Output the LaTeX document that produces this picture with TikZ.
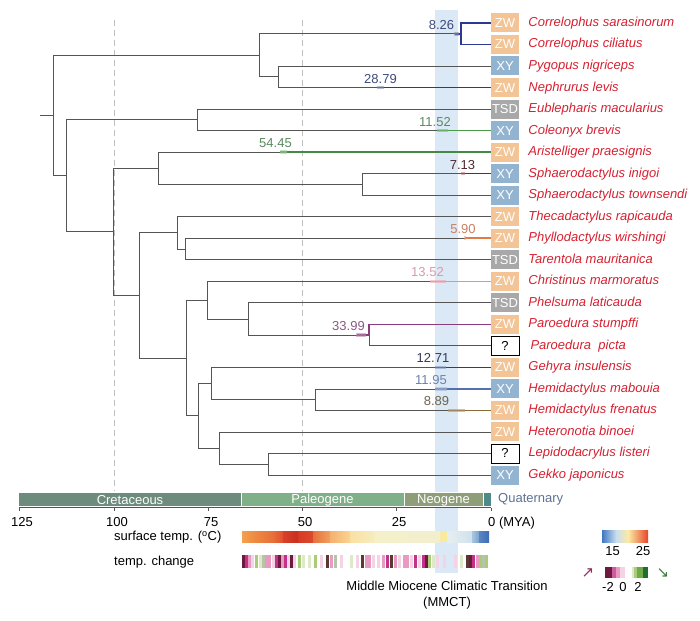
\documentclass[tikz,border=0pt]{standalone}
\usepackage{fontspec}
\setmainfont{Liberation Sans}
\newfontfamily\symfont{DejaVu Sans}
\usetikzlibrary{positioning}

\definecolor{treegrey}{RGB}{85,85,85}
\definecolor{guidegrey}{RGB}{192,192,192}
\definecolor{mmctblue}{RGB}{219,232,246}
\definecolor{zwfill}{RGB}{243,196,150}
\definecolor{xyfill}{RGB}{147,180,208}
\definecolor{tsdfill}{RGB}{168,168,168}
\definecolor{spred}{RGB}{214,32,48}
% branch colours
\definecolor{cnavy}{RGB}{43,57,144}
\definecolor{cgreen}{RGB}{74,154,74}
\definecolor{cmaroon}{RGB}{139,28,36}
\definecolor{corange}{RGB}{224,122,74}
\definecolor{cpink}{RGB}{238,140,152}
\definecolor{cpurple}{RGB}{139,59,126}
\definecolor{csteel}{RGB}{84,112,174}
\definecolor{colive}{RGB}{138,106,53}
% label colours
\definecolor{lnavy}{RGB}{62,74,122}
\definecolor{lgreen}{RGB}{90,138,96}
\definecolor{lmaroon}{RGB}{80,40,48}
\definecolor{lorange}{RGB}{201,128,96}
\definecolor{lpink}{RGB}{217,154,170}
\definecolor{lpurple}{RGB}{138,90,133}
\definecolor{ldark}{RGB}{51,56,90}
\definecolor{lsteel}{RGB}{106,130,176}
\definecolor{lolive}{RGB}{110,100,80}
% time scale
\definecolor{creta}{RGB}{110,140,125}
\definecolor{paleo}{RGB}{128,176,136}
\definecolor{neo}{RGB}{142,158,120}
\definecolor{quat}{RGB}{78,138,138}
\definecolor{quattxt}{RGB}{93,113,144}
% surface temperature
\definecolor{tA}{RGB}{244,160,80}
\definecolor{tB}{RGB}{238,138,64}
\definecolor{tC}{RGB}{232,112,58}
\definecolor{tD}{RGB}{224,80,46}
\definecolor{tE}{RGB}{216,64,42}
\definecolor{tF}{RGB}{200,48,30}
\definecolor{tG}{RGB}{214,58,38}
\definecolor{tH}{RGB}{220,74,44}
\definecolor{tI}{RGB}{232,112,60}
\definecolor{tJ}{RGB}{240,160,96}
\definecolor{tK}{RGB}{245,176,112}
\definecolor{tL}{RGB}{249,213,144}
\definecolor{tM}{RGB}{250,224,160}
\definecolor{tN}{RGB}{246,237,192}
\definecolor{tO}{RGB}{245,240,200}
\definecolor{tP}{RGB}{242,239,207}
\definecolor{tQ}{RGB}{250,234,160}
\definecolor{tR}{RGB}{232,238,240}
\definecolor{tS}{RGB}{207,226,238}
\definecolor{tT}{RGB}{168,198,224}
\definecolor{tU}{RGB}{123,163,208}
\definecolor{tV}{RGB}{90,133,195}
\definecolor{tW}{RGB}{62,109,181}
% temperature change stripes
\definecolor{dm}{RGB}{110,26,64}
\definecolor{mg}{RGB}{194,50,138}
\definecolor{pk}{RGB}{232,154,192}
\definecolor{pp}{RGB}{244,212,228}
\definecolor{pg}{RGB}{220,234,200}
\definecolor{lg}{RGB}{168,204,120}
\definecolor{gg}{RGB}{184,196,168}
\definecolor{db}{RGB}{90,58,48}
\definecolor{mgreen}{RGB}{110,170,70}
\definecolor{dgreen}{RGB}{30,110,46}
\definecolor{uparrow}{RGB}{139,48,96}
\definecolor{dnarrow}{RGB}{60,122,60}
% legend
\definecolor{kA}{RGB}{63,120,192}
\definecolor{kB}{RGB}{200,221,240}
\definecolor{kC}{RGB}{251,235,165}
\definecolor{kD}{RGB}{232,69,42}

\tikzset{
  branch/.style={draw=treegrey, line width=0.8pt},
  hi/.style={line width=1.6pt},
  hpd/.style={opacity=0.6},
  guide/.style={draw=guidegrey, line width=0.6pt, dash pattern=on 6pt off 4pt},
  tipbox/.style={minimum width=28pt, minimum height=19pt, inner sep=0pt, text=white,
    font=\fontsize{13}{13}\selectfont},
  zw/.style={tipbox, fill=zwfill},
  xy/.style={tipbox, fill=xyfill},
  tsd/.style={tipbox, fill=tsdfill},
  unk/.style={tipbox, fill=white, draw=black, line width=0.6pt, text=black},
  sp/.style={inner sep=0pt, text=spred, font=\fontsize{13}{13}\selectfont\itshape,
    text height=9.5pt, text depth=2.5pt},
  age/.style={anchor=base, inner sep=0pt, font=\fontsize{13}{13}\selectfont},
  txt/.style={inner sep=0pt, font=\fontsize{13}{16}\selectfont},
  period/.style={txt, text=white},
}

\begin{document}
\begin{tikzpicture}[x=1pt, y=-1pt]
\useasboundingbox (0,0) rectangle (700,620);

% MMCT band and time guides
\fill[mmctblue] (435,10) rectangle (458,573);
\draw[guide] (114,20) -- (114,491);
\draw[guide] (302,20) -- (302,491);

% sex determination boxes
\node[zw] (b1) at (505,23) {ZW};
\node[zw] (b2) at (505,44.5) {ZW};
\node[xy] (b3) at (505,66) {XY};
\node[zw] (b4) at (505,87.6) {ZW};
\node[tsd] (b5) at (505,109.1) {TSD};
\node[xy] (b6) at (505,130.6) {XY};
\node[zw] (b7) at (505,152.1) {ZW};
\node[xy] (b8) at (505,173.7) {XY};
\node[xy] (b9) at (505,195.2) {XY};
\node[zw] (b10) at (505,216.7) {ZW};
\node[zw] (b11) at (505,238.2) {ZW};
\node[tsd] (b12) at (505,259.7) {TSD};
\node[zw] (b13) at (505,281.3) {ZW};
\node[tsd] (b14) at (505,302.8) {TSD};
\node[zw] (b15) at (505,324.3) {ZW};
\node[unk] (b16) at (505,345.8) {?};
\node[zw] (b17) at (505,367.3) {ZW};
\node[xy] (b18) at (505,388.9) {XY};
\node[zw] (b19) at (505,410.4) {ZW};
\node[zw] (b20) at (505,431.9) {ZW};
\node[unk] (b21) at (505,453.4) {?};
\node[xy] (b22) at (505,475) {XY};

% species
\node[sp, right=9pt of b1] (s1) {Correlophus sarasinorum};
\node[sp, right=9pt of b2] (s2) {Correlophus ciliatus};
\node[sp, right=9pt of b3] (s3) {Pygopus nigriceps};
\node[sp, right=9pt of b4] (s4) {Nephrurus levis};
\node[sp, right=9pt of b5] (s5) {Eublepharis macularius};
\node[sp, right=9pt of b6] (s6) {Coleonyx brevis};
\node[sp, right=9pt of b7] (s7) {Aristelliger praesignis};
\node[sp, right=9pt of b8] (s8) {Sphaerodactylus inigoi};
\node[sp, right=9pt of b9] (s9) {Sphaerodactylus townsendi};
\node[sp, right=9pt of b10] (s10) {Thecadactylus rapicauda};
\node[sp, right=9pt of b11] (s11) {Phyllodactylus wirshingi};
\node[sp, right=9pt of b12] (s12) {Tarentola mauritanica};
\node[sp, right=9pt of b13] (s13) {Christinus marmoratus};
\node[sp, right=9pt of b14] (s14) {Phelsuma laticauda};
\node[sp, right=9pt of b15] (s15) {Paroedura stumpffi};
\node[sp, right=11pt of b16] (s16) {Paroedura\ \ picta};
\node[sp, right=9pt of b17] (s17) {Gehyra insulensis};
\node[sp, right=9pt of b18] (s18) {Hemidactylus mabouia};
\node[sp, right=9pt of b19] (s19) {Hemidactylus frenatus};
\node[sp, right=9pt of b20] (s20) {Heteronotia binoei};
\node[sp, right=9pt of b21] (s21) {Lepidodacrylus listeri};
\node[sp, right=9pt of b22] (s22) {Gekko japonicus};

% internal nodes of the tree
\coordinate (stub) at (40,115.6);
\coordinate (root) at (53,115.6);
\coordinate (nA) at (259,55.3);
\coordinate (nC) at (461,33.8);
\coordinate (nP) at (278,76.8);
\coordinate (nB) at (66,175.9);
\coordinate (nE) at (197,119.9);
\coordinate (nX) at (113.5,231.8);
\coordinate (nAr) at (158,168.3);
\coordinate (nS) at (362,184.5);
\coordinate (nTC) at (139,295.4);
\coordinate (nT) at (177,232.8);
\coordinate (nPh) at (185,249);
\coordinate (nCP) at (186,358);
\coordinate (nCh) at (207,300.1);
\coordinate (nPl) at (248,318.9);
\coordinate (nPa) at (369,335);
\coordinate (nGH) at (198,415.8);
\coordinate (nG) at (211,383.5);
\coordinate (nH) at (315,399.6);
\coordinate (nHe) at (219,448);
\coordinate (nL) at (268,464.2);

% branches
\draw[branch] (stub) -- (root);
\draw[branch] (root) |- (nA);
\draw[branch] (root) |- (nB);
\draw[branch] (nA) |- (nC);
\draw[branch] (nA) |- (nP);
\draw[branch] (nC) |- (b1.west);
\draw[branch] (nC) |- (b2.west);
\draw[branch] (nP) |- (b3.west);
\draw[branch] (nP) |- (b4.west);
\draw[branch] (nB) |- (nE);
\draw[branch] (nB) |- (nX);
\draw[branch] (nE) |- (b5.west);
\draw[branch] (nE) |- (b6.west);
\draw[branch] (nX) |- (nAr);
\draw[branch] (nX) |- (nTC);
\draw[branch] (nAr) |- (b7.west);
\draw[branch] (nAr) |- (nS);
\draw[branch] (nS) |- (b8.west);
\draw[branch] (nS) |- (b9.west);
\draw[branch] (nTC) |- (nT);
\draw[branch] (nTC) |- (nCP);
\draw[branch] (nT) |- (b10.west);
\draw[branch] (nT) |- (nPh);
\draw[branch] (nPh) |- (b11.west);
\draw[branch] (nPh) |- (b12.west);
\draw[branch] (nCP) |- (nCh);
\draw[branch] (nCP) |- (nGH);
\draw[branch] (nCh) |- (b13.west);
\draw[branch] (nCh) |- (nPl);
\draw[branch] (nPl) |- (b14.west);
\draw[branch] (nPl) |- (nPa);
\draw[branch] (nPa) |- (b15.west);
\draw[branch] (nPa) |- (b16.west);
\draw[branch] (nGH) |- (nG);
\draw[branch] (nGH) |- (nHe);
\draw[branch] (nG) |- (b17.west);
\draw[branch] (nG) |- (nH);
\draw[branch] (nH) |- (b18.west);
\draw[branch] (nH) |- (b19.west);
\draw[branch] (nHe) |- (b20.west);
\draw[branch] (nHe) |- (nL);
\draw[branch] (nL) |- (b21.west);
\draw[branch] (nL) |- (b22.west);

% transition points
\coordinate (a1) at (455,33.8);
\coordinate (a4) at (378,87.6);
\coordinate (a6) at (437,130.6);
\coordinate (a7) at (280,152.1);
\coordinate (a8) at (461,173.7);
\coordinate (a11) at (465,238.2);
\coordinate (a13) at (430,281.3);
\coordinate (a15) at (357,335);
\coordinate (a17) at (435,367.3);
\coordinate (a18) at (435,388.9);
\coordinate (a19) at (448,410.4);

\draw[branch, hi, cnavy] (a1) -- (nC) |- (b1.west);
\draw[branch, hi, cnavy] (nC) |- (b2.west);
\draw[branch, hi, cnavy] (a4) -- (b4.west);
\draw[branch, hi, cgreen] (a6) -- (b6.west);
\draw[branch, hi, cgreen!90!black] (a7) -- (b7.west);
\draw[branch, hi, cmaroon] (a8) -- (b8.west);
\draw[branch, hi, corange] (a11) -- (b11.west);
\draw[branch, hi, cpink] (a13) -- (b13.west);
\draw[branch, hi, cpurple] (a15) -- (nPa) |- (b15.west);
\draw[branch, hi, cnavy] (a17) -- (b17.west);
\draw[branch, hi, csteel] (a18) -- (b18.west);
\draw[branch, hi, colive] (a19) -- (b19.west);

% age intervals
\fill[hpd, lnavy!60] (454,32) rectangle (459,35.6);
\fill[hpd, lnavy!60] (377,85.8) rectangle (384,89.4);
\fill[hpd, cgreen!70] (437,128.8) rectangle (448,132.4);
\fill[hpd, cgreen!50] (280,150.3) rectangle (287,153.9);
\fill[hpd, cmaroon!60] (461,171.9) rectangle (465,175.5);
\fill[hpd, corange!70] (464,236) rectangle (466,240.4);
\fill[hpd, cpink!80] (430,279.5) rectangle (446,283.1);
\fill[hpd, cpurple!60] (356,333.2) rectangle (366,336.8);
\fill[hpd, csteel!70] (435,365.5) rectangle (446,369.1);
\fill[hpd, csteel!50] (435,387.1) rectangle (447,390.7);
\fill[hpd, colive!70] (448,408.6) rectangle (465,412.2);

% ages
\node[age, text=lnavy] (d1) at (441.5,29.8) {8.26};
\node[age, text=lnavy] (d4) at (380.5,83.6) {28.79};
\node[age, text=lgreen] (d6) at (435,126.1) {11.52};
\node[age, text=lgreen] (d7) at (275.5,147.6) {54.45};
\node[age, text=lmaroon] (d8) at (462.5,169.2) {7.13};
\node[age, text=lorange] (d11) at (463,233.7) {5.90};
\node[age, text=lpink] (d13) at (427.5,276.8) {13.52};
\node[age, text=lpurple] (d15) at (348.5,330.5) {33.99};
\node[age, text=ldark] (d17) at (433,362.8) {12.71};
\node[age, text=lsteel] (d18) at (431,384.4) {11.95};
\node[age, text=lolive] (d19) at (436.5,405.9) {8.89};

% geological time scale
\filldraw[fill=creta, draw=white, line width=0.5pt] (18,492) rectangle (241,506);
\filldraw[fill=paleo, draw=white, line width=0.5pt] (241,492) rectangle (404,506);
\filldraw[fill=neo, draw=white, line width=0.5pt] (404,492) rectangle (483,506);
\filldraw[fill=quat, draw=white, line width=0.5pt] (483,492) rectangle (491,506);
\node[period] (cre) at (130,500) {Cretaceous};
\node[period] (pal) at (322.5,500) {Paleogene};
\node[period] (neg) at (443.5,500) {Neogene};
\node[txt, anchor=west, text=quattxt] (qua) at (498,499.5) {Quaternary};

% axis
\draw[treegrey, line width=0.8pt] (19,507.5) -- (491,507.5);
\draw[treegrey, line width=0.8pt] (19,507.5) -- (19,511);
\draw[treegrey, line width=0.8pt] (114,507.5) -- (114,511);
\draw[treegrey, line width=0.8pt] (208,507.5) -- (208,511);
\draw[treegrey, line width=0.8pt] (302,507.5) -- (302,511);
\draw[treegrey, line width=0.8pt] (396,507.5) -- (396,511);
\draw[treegrey, line width=0.8pt] (491,507.5) -- (491,511);
\node[age] (m125) at (22,526) {125};
\node[age] (m100) at (117,526) {100};
\node[age] (m75) at (211,526) {75};
\node[age] (m50) at (305,526) {50};
\node[age] (m25) at (399,526) {25};
\node[age, anchor=base west] (m0) at (488,526) {0 (MYA)};

% surface temperature
\node[txt, anchor=west] (tlab) at (114,537) {surface temp. (\textsuperscript{o}C)};
\shade[left color=tA, right color=tB] (242,531) rectangle (255,542);
\shade[left color=tB, right color=tC] (255,531) rectangle (272,542);
\shade[left color=tC, right color=tD] (272,531) rectangle (283,542);
\shade[left color=tE, right color=tF] (283,531) rectangle (298,542);
\shade[left color=tG, right color=tH] (298,531) rectangle (313,542);
\shade[left color=tI, right color=tJ] (313,531) rectangle (330,542);
\shade[left color=tK, right color=tL] (330,531) rectangle (350,542);
\shade[left color=tM, right color=tN] (350,531) rectangle (375,542);
\shade[left color=tO, right color=tP] (375,531) rectangle (440,542);
\fill[tQ] (440,531) rectangle (447,542);
\shade[left color=tR, right color=tS] (447,531) rectangle (472,542);
\shade[left color=tT, right color=tU] (472,531) rectangle (479,542);
\shade[left color=tV, right color=tW] (479,531) rectangle (489,542);

% temperature change
\node[txt, anchor=west] (clab) at (114,562) {temp. change};
\foreach \x/\c in {242/dm, 245/mg, 248/pk, 251/pp, 255/lg, 259/pg, 262/gg, 265/pk,
  268/pk, 272/pp, 275/mg, 278/dm, 281/pk, 284/mg, 287/pp, 290/dm, 293/pp, 298/lg,
  302/pg, 308/pg, 314/lg, 320/pp, 326/db, 330/pk, 334/gg, 340/pp, 350/pg, 356/pp,
  361/db, 365/pk, 368/pk, 372/pp, 377/pp, 382/pk, 386/mg, 390/db, 394/pk, 398/pp,
  403/pk, 406/pk, 410/pp, 414/mg, 418/pp, 422/mg, 425/dm, 428/lg, 432/pg, 436/pp,
  443/pp, 454/pp, 460/pg, 466/db, 469/dm, 472/mg, 476/pk, 479/lg, 482/gg, 485/lg}
  \fill[\c] (\x,555) rectangle ++(2.5,13);

% MMCT label
\node[txt, align=center] (mmct) at (447,595) {Middle Miocene Climatic Transition\\(MMCT)};

% legend: temperature
\shade[left color=kA, right color=kB] (602,530) rectangle (616,542);
\shade[left color=kB, right color=kC] (616,530) rectangle (628,542);
\shade[left color=kC, right color=kD] (628,530) rectangle (648,542);
\node[txt] (l15) at (612.5,551) {15};
\node[txt] (l25) at (643,551) {25};

% legend: temperature change
\fill[dm] (605,567) rectangle (612,578);
\fill[mg!80] (612,567) rectangle (616,578);
\fill[pk] (616,567) rectangle (620,578);
\fill[pp] (620,567) rectangle (625,578);
\fill[pg] (632,567) rectangle (634,578);
\fill[lg] (634,567) rectangle (637,578);
\fill[mgreen] (637,567) rectangle (643,578);
\fill[dgreen] (643,567) rectangle (648,578);
\node[txt] (lm2) at (608,587) {-2};
\node[txt] (l0) at (623,587) {0};
\node[txt] (l2) at (638,587) {2};
\node[txt, text=uparrow, font=\symfont\fontsize{15}{15}\selectfont] (up) at (588,573) {↗};
\node[txt, text=dnarrow, font=\symfont\fontsize{15}{15}\selectfont] (dn) at (663,573) {↘};
\end{tikzpicture}
\end{document}
